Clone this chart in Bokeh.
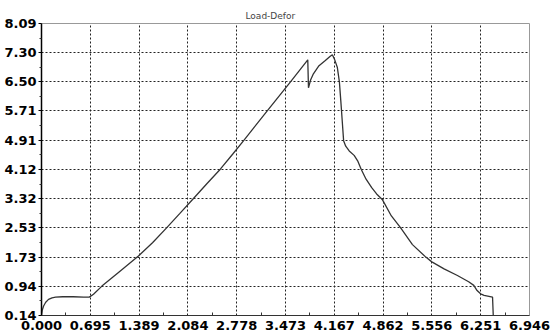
from bokeh.plotting import figure
from bokeh.models import Range1d, FixedTicker, NumeralTickFormatter
from bokeh.embed import file_html
from bokeh.resources import INLINE

# ---- data ----
deformation = [0.0, 0.01, 0.03, 0.06, 0.10, 0.15, 0.20, 0.30, 0.45, 0.60, 0.68,
               0.74, 0.86, 1.10, 1.38, 1.58, 1.777, 1.97, 2.16, 2.35, 2.548, 2.72,
               2.88, 3.213, 3.544, 3.79,
               3.80, 3.83, 3.87, 3.95, 4.04, 4.11, 4.14,
               4.17, 4.21, 4.24, 4.26, 4.28, 4.30, 4.33, 4.38, 4.45, 4.50, 4.55,
               4.62, 4.70, 4.77, 4.85, 4.98, 5.11, 5.28, 5.47, 5.556, 5.73, 5.92,
               6.08, 6.153, 6.20, 6.25, 6.30, 6.42, 6.43]
load = [0.14, 0.28, 0.40, 0.50, 0.58, 0.62, 0.64, 0.65, 0.65, 0.64, 0.64,
        0.72, 0.94, 1.32, 1.76, 2.12, 2.52, 2.92, 3.32, 3.72, 4.13, 4.53,
        4.91, 5.71, 6.50, 7.10,
        6.34, 6.55, 6.72, 6.94, 7.08, 7.20, 7.24,
        7.12, 6.90, 6.50, 5.99, 5.45, 4.90, 4.75, 4.62, 4.50, 4.35, 4.12,
        3.85, 3.62, 3.45, 3.30, 2.85, 2.53, 2.07, 1.73, 1.60, 1.41, 1.23,
        1.06, 0.96, 0.82, 0.73, 0.69, 0.64, 0.14]

x_ticks = [0.000, 0.695, 1.389, 2.084, 2.778, 3.473, 4.167, 4.862, 5.556, 6.251, 6.946]
y_ticks = [0.14, 0.94, 1.73, 2.53, 3.32, 4.12, 4.91, 5.71, 6.50, 7.30, 8.09]
title_text = "Load-Defor"

x_minor = [(a + b) / 2 for a, b in zip(x_ticks[:-1], x_ticks[1:])]
y_minor = [(a + b) / 2 for a, b in zip(y_ticks[:-1], y_ticks[1:])]

p = figure(width=550, height=336, output_backend="svg", toolbar_location=None,
           x_range=Range1d(x_ticks[0], x_ticks[-1]),
           y_range=Range1d(y_ticks[0], y_ticks[-1]),
           min_border_left=41, min_border_right=21, min_border_top=23,
           min_border_bottom=21)

p.title.text = title_text
p.title.align = "left"
p.title.offset = 204
p.title.text_font = "DejaVu Sans"
p.title.text_font_size = "9px"
p.title.text_font_style = "normal"
p.title.text_color = "#444444"
p.title.standoff = 5

p.background_fill_color = "white"
p.border_fill_color = "white"
p.outline_line_color = "#999999"
p.outline_line_width = 1

p.line(deformation, load, line_color="#333333", line_width=1.3)

# axes
p.xaxis.ticker = FixedTicker(ticks=x_ticks, minor_ticks=x_minor)
p.yaxis.ticker = FixedTicker(ticks=y_ticks, minor_ticks=y_minor)
p.xaxis.formatter = NumeralTickFormatter(format="0.000")
p.yaxis.formatter = NumeralTickFormatter(format="0.00")

for ax in (p.xaxis[0], p.yaxis[0]):
    ax.major_label_text_font = "DejaVu Sans"
    ax.major_label_text_font_style = "bold"
    ax.major_label_text_font_size = "13px"
    ax.major_label_text_color = "black"

p.xaxis.axis_line_color = "#333333"
p.xaxis.axis_line_width = 1
p.xaxis.major_tick_in = 0
p.xaxis.major_tick_out = 0
p.xaxis.minor_tick_in = 3
p.xaxis.minor_tick_out = 0
p.xaxis.minor_tick_line_color = "#333333"
p.xaxis.major_label_standoff = 5

p.yaxis.axis_line_color = "black"
p.yaxis.axis_line_width = 1.5
p.yaxis.major_tick_in = 0
p.yaxis.major_tick_out = 3
p.yaxis.minor_tick_in = 0
p.yaxis.minor_tick_out = 2
p.yaxis.major_tick_line_color = "black"
p.yaxis.minor_tick_line_color = "#333333"
p.yaxis.major_label_standoff = 2

# grid: dotted dark lines at the interior ticks
p.xgrid.ticker = FixedTicker(ticks=x_ticks[1:-1])
p.ygrid.ticker = FixedTicker(ticks=y_ticks[1:-1])
for g in (p.xgrid[0], p.ygrid[0]):
    g.grid_line_color = "#222222"
    g.grid_line_dash = "2 2"
    g.grid_line_width = 1

open("out.html", "w").write(file_html(p, INLINE))
